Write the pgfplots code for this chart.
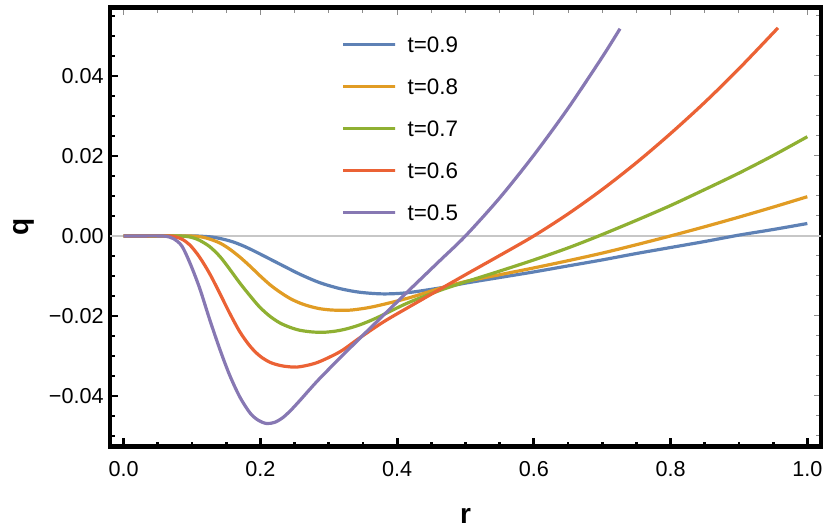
\documentclass[border=0pt]{standalone}
\usepackage{pgfplots}
\pgfplotsset{compat=1.18}
\usepackage{fontspec}
\setmainfont{Liberation Sans}
\definecolor{mblue}{RGB}{94,129,181}
\definecolor{morange}{RGB}{225,156,36}
\definecolor{mgreen}{RGB}{143,176,50}
\definecolor{mred}{RGB}{235,98,53}
\definecolor{mpurple}{RGB}{135,120,179}
\pgfplotsset{common/.style={
  at={(0pt,0pt)}, anchor=south west,
  scale only axis, width=355.5pt, height=219.5pt,
  xmin=-0.02, xmax=1.02, ymin=-0.05265, ymax=0.0571,
  scaled ticks=false,
  /pgf/number format/assume math mode=true,
  xtick={0,0.2,0.4,0.6,0.8,1},
  ytick={-0.04,-0.02,0,0.02,0.04},
  minor xtick={0.05,0.1,0.15,0.25,0.3,0.35,0.45,0.5,0.55,0.65,0.7,0.75,0.85,0.9,0.95},
  minor ytick={-0.05,-0.045,-0.035,-0.03,-0.025,-0.015,-0.01,-0.005,0.005,0.01,0.015,0.025,0.03,0.035,0.045,0.05,0.055},
  tick align=inside,
}}
\begin{document}
\begin{tikzpicture}
\useasboundingbox (-55pt,-42.25pt) rectangle (360pt,223.25pt);
% mirrored grey ticks (top and right)
\begin{axis}[common,
  xtick pos=right, ytick pos=right,
  xticklabels={}, yticklabels={},
  axis line style={draw=none},
  major tick style={black!45, line width=0.5pt},
  minor tick style={black!45, line width=0.5pt},
  major tick length=3.5pt, minor tick length=2.5pt]
\addplot[draw=none] coordinates {(0,0)};
\end{axis}
% main axis
\begin{axis}[common,
  xtick pos=left, ytick pos=left,
  xticklabels={0.0,0.2,0.4,0.6,0.8,1.0},
  yticklabels={−0.04,−0.02,0.00,0.02,0.04},
  axis line style={line width=2.2pt, black},
  major tick style={black, line width=1.4pt},
  minor tick style={black, line width=1.4pt},
  major tick length=4.25pt, minor tick length=2.5pt,
  tick label style={font=\fontsize{10.8}{12}\selectfont},
  yticklabel style={inner sep=0pt, xshift=-3pt},
  xticklabel style={inner sep=0pt, yshift=-7.5pt},
  xlabel={r},
  xlabel style={at={(axis description cs:0.5,-0.1743)}, anchor=base, font=\fontsize{14}{16}\selectfont\bfseries},
  ylabel={q},
  ylabel style={at={(axis description cs:-0.1153,0.5)}, anchor=base, rotate=0, font=\fontsize{14}{16}\selectfont\bfseries},
  legend style={draw=none, fill=none, at={(axis description cs:0.3249,0.9346)}, anchor=north west,
    inner sep=0pt, row sep=13.3pt, column sep=0pt, font=\fontsize{11.2}{12}\selectfont,
    nodes={inner sep=0pt, text height=7.7pt, text depth=0pt}},
  legend cell align=left,
  legend image code/.code={\path (0pt,0pt) rectangle (26pt,0pt); \draw[#1] (0pt,0pt) -- (19pt,0pt);},
  every axis plot/.append style={line width=1.6pt},
]
\addplot[forget plot, color=black!22, line width=0.6pt] coordinates {(-0.02,0) (1.02,0)};

\addplot[color=mblue, smooth] table {
0 0
0.06 0
0.10 0
0.115 -0.0001
0.130 -0.0003
0.145 -0.0008
0.160 -0.0015
0.175 -0.0025
0.190 -0.0037
0.205 -0.0050
0.229 -0.0071
0.258 -0.0096
0.287 -0.0117
0.317 -0.0132
0.346 -0.0141
0.380 -0.0145
0.415 -0.0142
0.463 -0.0130
0.500 -0.0118
0.550 -0.0104
0.600 -0.0090
0.650 -0.0075
0.700 -0.0060
0.750 -0.0044
0.800 -0.0029
0.850 -0.0014
0.900 0.0002
0.950 0.0016
1.000 0.0031
};
\addlegendentry{\hspace{5.5pt}t=0.9}

\addplot[color=morange, smooth] table {
0 0
0.05 0
0.09 0
0.105 -0.0001
0.115 -0.0003
0.126 -0.0008
0.141 -0.0018
0.155 -0.0033
0.170 -0.0053
0.185 -0.0076
0.199 -0.0099
0.214 -0.0122
0.229 -0.0141
0.244 -0.0157
0.258 -0.0168
0.272 -0.0176
0.287 -0.0182
0.302 -0.0185
0.317 -0.0186
0.335 -0.0185
0.365 -0.0177
0.415 -0.0156
0.463 -0.0131
0.500 -0.0114
0.550 -0.0097
0.600 -0.0080
0.650 -0.0062
0.700 -0.0043
0.750 -0.0022
0.800 0.0000
0.850 0.0023
0.900 0.0047
0.950 0.0072
1.000 0.0098
};
\addlegendentry{\hspace{5.5pt}t=0.8}

\addplot[color=mgreen, smooth] table {
0 0
0.04 0
0.075 0
0.090 -0.0001
0.100 -0.0004
0.111 -0.0011
0.126 -0.0027
0.141 -0.0052
0.155 -0.0083
0.170 -0.0118
0.185 -0.0150
0.199 -0.0178
0.214 -0.0201
0.229 -0.0218
0.244 -0.0229
0.258 -0.0236
0.275 -0.0240
0.292 -0.0241
0.310 -0.0238
0.327 -0.0232
0.346 -0.0222
0.370 -0.0205
0.415 -0.0168
0.463 -0.0136
0.500 -0.0115
0.550 -0.0088
0.600 -0.0060
0.650 -0.0030
0.695 0.0000
0.750 0.0039
0.800 0.0076
0.850 0.0116
0.900 0.0157
0.950 0.0201
1.000 0.0248
};
\addlegendentry{\hspace{5.5pt}t=0.7}

\addplot[color=mred, smooth] table {
0 0
0.03 0
0.06 0
0.072 -0.0001
0.085 -0.0008
0.097 -0.0023
0.111 -0.0053
0.126 -0.0095
0.141 -0.0145
0.155 -0.0193
0.170 -0.0240
0.185 -0.0276
0.199 -0.0300
0.214 -0.0316
0.229 -0.0324
0.241 -0.0327
0.253 -0.0328
0.270 -0.0323
0.287 -0.0314
0.317 -0.0289
0.346 -0.0254
0.380 -0.0215
0.415 -0.0180
0.463 -0.0133
0.500 -0.0097
0.550 -0.0049
0.600 0.0000
0.650 0.0055
0.700 0.0116
0.750 0.0183
0.800 0.0256
0.850 0.0334
0.900 0.0418
0.957 0.0520
};
\addlegendentry{\hspace{5.5pt}t=0.6}

\addplot[color=mpurple, smooth] table {
0 0
0.03 0
0.05 0
0.062 -0.0001
0.073 -0.0007
0.085 -0.0025
0.097 -0.0068
0.111 -0.0130
0.126 -0.0210
0.141 -0.0285
0.155 -0.0348
0.170 -0.0403
0.185 -0.0443
0.197 -0.0461
0.209 -0.0469
0.221 -0.0466
0.233 -0.0454
0.245 -0.0435
0.258 -0.0411
0.272 -0.0384
0.287 -0.0356
0.317 -0.0304
0.346 -0.0255
0.370 -0.0215
0.397 -0.0170
0.415 -0.0140
0.463 -0.0061
0.500 0.0000
0.550 0.0095
0.600 0.0202
0.650 0.0319
0.700 0.0447
0.726 0.0518
};
\addlegendentry{\hspace{5.5pt}t=0.5}
\end{axis}
\end{tikzpicture}
\end{document}
